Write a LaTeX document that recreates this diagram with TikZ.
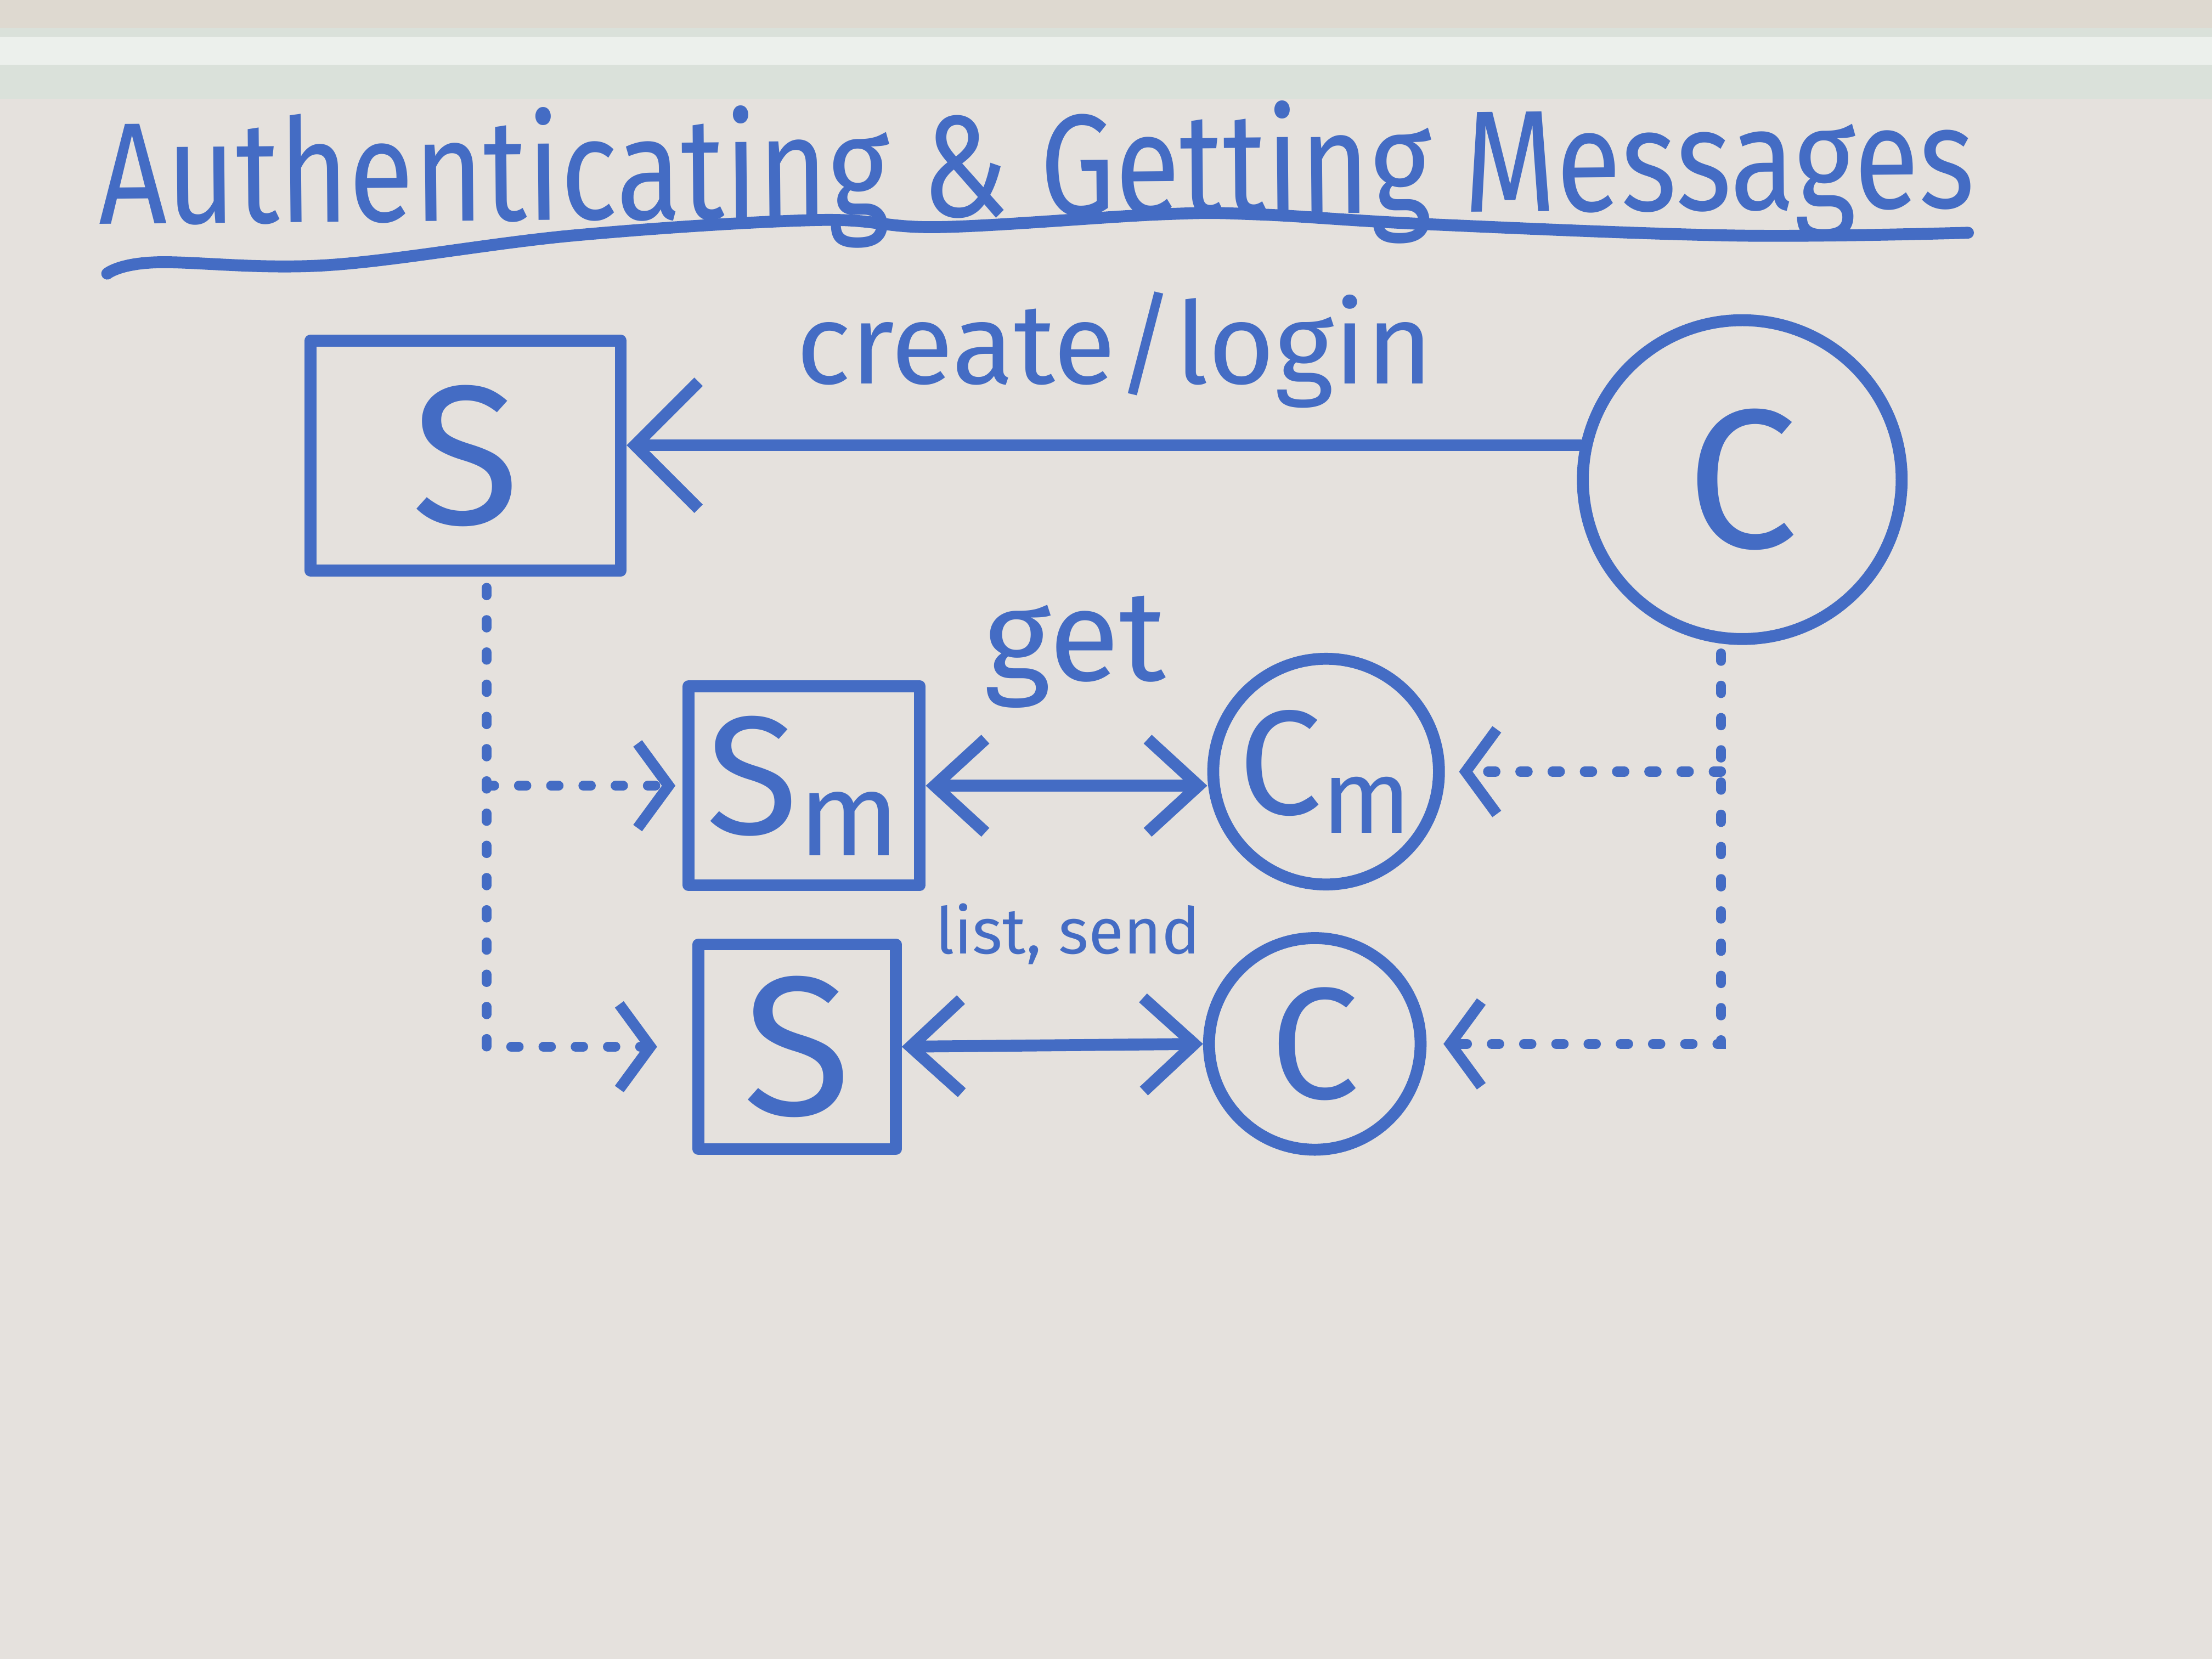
\documentclass[tikz,border=0pt]{standalone}
\usepackage{fontspec}
\setmainfont{Fira Sans}
\usetikzlibrary{arrows.meta}
\definecolor{marker}{RGB}{68,108,196}
\definecolor{board}{RGB}{229,225,221}
\definecolor{wall}{RGB}{222,217,208}
\definecolor{frame}{RGB}{218,225,218}
\definecolor{framehi}{RGB}{236,240,236}
\tikzset{
  ink/.style={draw=marker, line width=2.4pt, line cap=round, line join=round},
  txt/.style={text=marker, inner sep=0pt},
  sbox/.style={ink, rectangle, text=marker, inner sep=0pt, font=\fontsize{40}{40}\selectfont},
  cnode/.style={ink, circle, text=marker, inner sep=0pt, font=\fontsize{40}{40}\selectfont},
  barb/.style={-{Straight Barb[length=#1, width=2*#1, line width=2.4pt]}},
  bibarb/.style={{Straight Barb[length=0.36cm, width=0.66cm, line width=2.4pt]}-{Straight Barb[length=0.36cm, width=0.66cm, line width=2.4pt]}},
  dots/.style={draw=marker, line width=2pt, line cap=round, dash pattern=on 1.5pt off 5pt},
  dbarb/.style={-{Straight Barb[length=0.22cm, width=0.6cm, line width=2.2pt]}},
  lbl/.style={txt}
}
\begin{document}
\begin{tikzpicture}
\useasboundingbox (0,0) rectangle (15.68,11.76);
% whiteboard background
\fill[board] (0,0) rectangle (15.68,11.76);
\fill[wall] (0,11.56) rectangle (15.68,11.76);
\fill[frame] (0,11.06) rectangle (15.68,11.56);
\fill[framehi] (0,11.30) rectangle (15.68,11.50);

% title
\node[txt, anchor=base, rotate=0.5] (title) at (7.35,10.23) {\resizebox{13.3cm}{0.8cm}{\fontsize{30}{30}\selectfont Authenticating \& Getting Messages}};
\draw[ink] plot[smooth, tension=0.6] coordinates {(0.76,9.82) (1.10,9.90) (2.32,9.88) (4.06,10.09) (5.79,10.20) (6.66,10.15) (8.22,10.24) (8.92,10.24) (10.13,10.17) (12.30,10.09) (13.95,10.11)};

% nodes
\node[sbox, minimum width=2.2cm, minimum height=1.63cm] (sbig) at (3.30,8.53) {S};
\node[cnode, minimum size=2.26cm] (cbig) at (12.35,8.36) {C};
\node[sbox, minimum width=1.64cm, minimum height=1.41cm, font=\fontsize{34}{34}\selectfont] (sm) at (5.70,6.19) {S\textsubscript{m}};
\node[cnode, minimum size=1.6cm, font=\fontsize{30}{30}\selectfont] (cm) at (9.40,6.29) {C\textsubscript{m}};
\node[sbox, minimum width=1.4cm, minimum height=1.45cm] (sbot) at (5.65,4.34) {S};
\node[cnode, minimum size=1.5cm, font=\fontsize{32}{32}\selectfont] (cbot) at (9.32,4.36) {C};

% labels
\node[lbl, font=\fontsize{23}{23}\selectfont] (lcreate) at (7.9,9.28) {create/login};
\node[lbl, font=\fontsize{26}{26}\selectfont] (lget) at (7.62,7.14) {get};
\node[lbl, font=\fontsize{13}{13}\selectfont] (llist) at (7.57,5.14) {list, send};

% solid arrows
\draw[ink, barb=0.45cm] (cbig.168) -- (cbig.168 -| sbig.east);
\draw[ink, bibarb] (sm.east) -- (cm.west |- sm.east);
\draw[ink, bibarb] (sbot.east) -- (cbot.west);

% dotted connectors (left)
\coordinate (lt) at ([xshift=0.15cm]sbig.south);
\draw[dots, dbarb] ([yshift=-0.08cm]lt) |- ([xshift=-0.25cm]sbot.west);
\draw[dots, dbarb] (lt |- sm.west) -- ([xshift=-0.05cm]sm.west);
% dotted connectors (right)
\coordinate (rt) at ([xshift=-0.15cm]cbig.south);
\draw[dots, dbarb] ([yshift=-0.06cm]rt) |- ([xshift=0.12cm]cbot.east);
\draw[dots, dbarb] (rt |- cm.east) -- ([xshift=0.1cm]cm.east);
\end{tikzpicture}
\end{document}
